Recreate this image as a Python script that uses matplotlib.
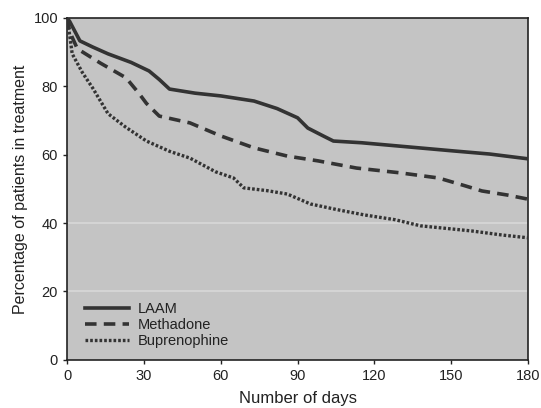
import numpy as np
import matplotlib.pyplot as plt

#Retention curves
laam_days = [0, 1, 5, 10, 16, 25, 32, 36, 40, 50, 60, 73, 82, 90, 94, 100, 104, 115, 130, 151, 165, 180]
laam_pct = [100, 99, 93.3, 91.5, 89.5, 87, 84.5, 82, 79.2, 78, 77.2, 75.7, 73.5, 70.8, 67.8, 65.5, 64, 63.5, 62.5, 61.1, 60.2, 58.8]

meth_days = [0, 1, 4, 13, 23, 28, 31, 36, 48, 60, 73, 86, 98, 113, 130, 145, 155, 162, 172, 180]
meth_pct = [100, 96, 91, 86.8, 82.5, 78, 75, 71.3, 69.3, 65.5, 62, 59.6, 58.2, 56.1, 54.7, 53.2, 51, 49.4, 48.2, 47]

bup_days = [0, 1, 2, 6, 10, 16, 23, 31, 40, 48, 58, 65, 69, 78, 86, 95, 105, 116, 128, 138, 150, 158, 170, 180]
bup_pct = [100, 95, 89.5, 84, 79.5, 72, 68, 64, 61, 59, 55, 53.2, 50.3, 49.5, 48.5, 45.6, 44, 42.4, 41, 39.2, 38.3, 37.7, 36.5, 35.7]

labels = ['LAAM', 'Methadone', 'Buprenophine']
xticks = [0, 30, 60, 90, 120, 150, 180]
yticks = [0, 20, 40, 60, 80, 100]

plt.rcParams['font.family'] = ['Liberation Sans', 'DejaVu Sans']

fig = plt.figure(figsize=(5.41, 4.08), dpi=100)
ax = fig.add_axes([0.124, 0.118, 0.852, 0.838])
ax.set_facecolor('#c4c4c4')

col = '#333333'
#faint light bands visible in the scan
for g in [20, 40]:
    ax.axhline(g, color='#d8d8d8', lw=1.2, zorder=1)

ax.plot(laam_days, laam_pct, color=col, lw=2.6, ls='-', label=labels[0], zorder=3)
ax.plot(meth_days, meth_pct, color=col, lw=2.6, ls=(0, (3.2, 2.0)), label=labels[1], zorder=3)
ax.plot(bup_days, bup_pct, color=col, lw=2.4, ls=(0, (0.8, 0.6)), label=labels[2], zorder=3)

ax.set_xlim(0, 180)
ax.set_ylim(0, 100)
ax.set_xticks(xticks)
ax.set_yticks(yticks)
ax.tick_params(labelsize=10.5, colors='#222222', length=3, width=1)
for s in ax.spines.values():
    s.set_color('#222222')
    s.set_linewidth(1.2)

ax.set_xlabel('Number of days', fontsize=12, color='#222222', labelpad=6)
ax.set_ylabel('Percentage of patients in treatment', fontsize=11.5, color='#222222', labelpad=4)

leg = ax.legend(loc='lower left', bbox_to_anchor=(0.01, -0.005), frameon=False,
                fontsize=10.5, handlelength=3.0, handletextpad=0.6, labelspacing=0.15)
for t in leg.get_texts():
    t.set_color('#222222')

fig.savefig('out.png', dpi=100)
